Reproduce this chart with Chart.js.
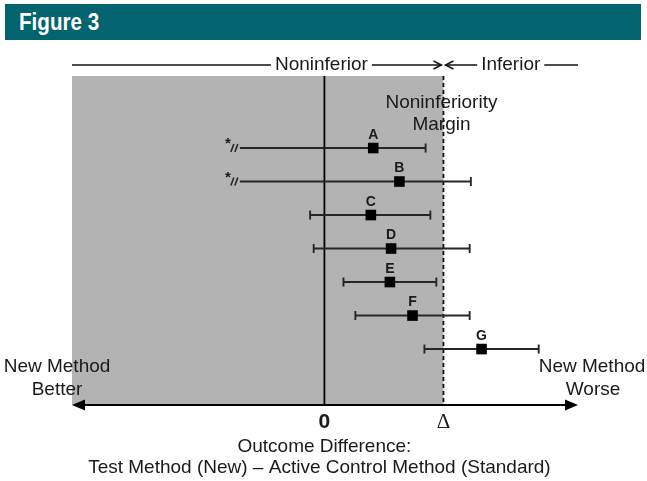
<!DOCTYPE html>
<html>
<head>
<meta charset="utf-8">
<script src="https://cdn.jsdelivr.net/npm/chart.js@4/dist/chart.umd.min.js"></script>
<style>
  html, body { margin: 0; padding: 0; background: #fff; }
  #wrap { position: relative; width: 647px; height: 481px; overflow: hidden; }
  #banner {
    position: absolute; left: 5px; top: 4px; width: 636px; height: 36px;
    background: #03636e; box-sizing: border-box; padding-left: 14px;
  }
  #banner span {
    display: inline-block; color: #fff;
    font: bold 24px "Liberation Sans Narrow", "Liberation Sans", Arial, sans-serif;
    line-height: 36px; transform: scaleX(0.86); transform-origin: left center;
  }
  canvas { position: absolute; left: 0; top: 0; }
</style>
</head>
<body>
<div id="wrap">
  <canvas id="chart" width="647" height="481"></canvas>
  <div id="banner"><span>Figure 3</span></div>
</div>
<script>
// Study labels, point estimates and confidence limits (units of the margin Δ)
const studies   = ['A', 'B', 'C', 'D', 'E', 'F', 'G'];
const estimates = [0.41, 0.63, 0.39, 0.56, 0.55, 0.74, 1.32];
const lowerCI   = [-0.71, -0.71, -0.12, -0.09, 0.16, 0.26, 0.84];
const upperCI   = [0.85, 1.23, 0.89, 1.22, 0.94, 1.22, 1.80];
// lower limits that run off the plot and are shown with a break mark
const truncated = [true, true, false, false, false, false, false];
// noninferiority margin and the x-axis tick labels
const margin     = 1;
const tickValues = [0, margin];
const tickLabels = ['0', 'Δ'];

const SANS = '"Liberation Sans", Arial, sans-serif';
const INK = '#1a1a1a';

function seg(ctx, x1, y1, x2, y2) {
  ctx.beginPath(); ctx.moveTo(x1, y1); ctx.lineTo(x2, y2); ctx.stroke();
}

const forestDecor = {
  id: 'forestDecor',
  beforeDatasetsDraw(chart) {
    const { ctx, chartArea: a, scales: { x, y } } = chart;
    const x0 = x.getPixelForValue(0);
    const xd = x.getPixelForValue(margin);
    ctx.save();
    // noninferior region
    ctx.fillStyle = '#b3b3b3';
    ctx.fillRect(a.left, a.top, xd - a.left, a.bottom - a.top);
    // zero line
    ctx.strokeStyle = '#000';
    ctx.lineWidth = 1.8;
    seg(ctx, x0, a.top, x0, a.bottom);
    // margin line
    ctx.strokeStyle = '#111';
    ctx.lineWidth = 1.8;
    ctx.setLineDash([4, 3]);
    seg(ctx, xd, a.top, xd, a.bottom);
    ctx.setLineDash([]);
    // confidence intervals
    ctx.strokeStyle = '#262626';
    ctx.lineWidth = 1.9;
    studies.forEach((s, i) => {
      const py = y.getPixelForValue(i + 1);
      const lo = x.getPixelForValue(lowerCI[i]);
      const hi = x.getPixelForValue(upperCI[i]);
      seg(ctx, lo, py, hi, py);
      seg(ctx, hi, py - 4.5, hi, py + 4.5);
      if (truncated[i]) {
        ctx.lineWidth = 1.6;
        seg(ctx, lo - 5, py + 4, lo - 2, py - 4);
        seg(ctx, lo - 9, py + 4, lo - 6, py - 4);
        ctx.lineWidth = 1.9;
        ctx.fillStyle = INK;
        ctx.font = 'bold 15px ' + SANS;
        ctx.textAlign = 'center';
        ctx.textBaseline = 'middle';
        ctx.fillText('*', lo - 12, py - 4);
      } else {
        seg(ctx, lo, py - 4.5, lo, py + 4.5);
      }
    });
    ctx.restore();
  },
  afterDatasetsDraw(chart) {
    const { ctx, chartArea: a, scales: { x, y } } = chart;
    const x0 = x.getPixelForValue(0);
    const xd = x.getPixelForValue(margin);
    ctx.save();
    ctx.fillStyle = INK;
    ctx.textAlign = 'center';
    ctx.textBaseline = 'middle';
    // study letters
    ctx.font = 'bold 14px ' + SANS;
    studies.forEach((s, i) => {
      ctx.fillText(s, x.getPixelForValue(estimates[i]), y.getPixelForValue(i + 1) - 13);
    });
    // margin caption
    ctx.font = '19px ' + SANS;
    ctx.fillText('Noninferiority', xd - 2, 103);
    ctx.fillText('Margin', xd - 2, 125);
    // direction captions
    ctx.fillText('New Method', 57, 367);
    ctx.fillText('Better', 57, 390);
    ctx.fillText('New Method', 592, 367);
    ctx.fillText('Worse', 593, 390);

    // top bracket: Noninferior / Inferior
    const ty = 65;
    ctx.strokeStyle = '#111';
    ctx.lineWidth = 1.4;
    const nText = 'Noninferior';
    const nx = x0 - 3;
    const nw = ctx.measureText(nText).width;
    ctx.fillText(nText, nx, ty);
    seg(ctx, a.left, ty, nx - nw / 2 - 4, ty);
    seg(ctx, nx + nw / 2 + 4, ty, xd - 2, ty);
    ctx.beginPath();
    ctx.moveTo(xd - 10, ty - 4); ctx.lineTo(xd - 2, ty); ctx.lineTo(xd - 10, ty + 4);
    ctx.stroke();
    const iText = 'Inferior';
    const ix = (xd + a.right) / 2;
    const iw = ctx.measureText(iText).width;
    ctx.fillText(iText, ix, ty);
    seg(ctx, xd + 2, ty, ix - iw / 2 - 4, ty);
    ctx.beginPath();
    ctx.moveTo(xd + 10, ty - 4); ctx.lineTo(xd + 2, ty); ctx.lineTo(xd + 10, ty + 4);
    ctx.stroke();
    seg(ctx, ix + iw / 2 + 4, ty, a.right, ty);

    // bottom double-headed axis arrow
    const ay = a.bottom;
    ctx.strokeStyle = '#000';
    ctx.fillStyle = '#000';
    ctx.lineWidth = 2;
    seg(ctx, a.left + 6, ay, a.right - 6, ay);
    ctx.beginPath();
    ctx.moveTo(a.left, ay); ctx.lineTo(a.left + 13, ay - 5.5); ctx.lineTo(a.left + 13, ay + 5.5);
    ctx.closePath(); ctx.fill();
    ctx.beginPath();
    ctx.moveTo(a.right, ay); ctx.lineTo(a.right - 13, ay - 5.5); ctx.lineTo(a.right - 13, ay + 5.5);
    ctx.closePath(); ctx.fill();

    // tick labels
    ctx.fillStyle = INK;
    tickValues.forEach((v, i) => {
      ctx.font = i === 0 ? 'bold 21px ' + SANS : '21px "Liberation Serif", "Times New Roman", serif';
      ctx.fillText(tickLabels[i], x.getPixelForValue(v), ay + 17);
    });
    // axis title
    ctx.font = '19px ' + SANS;
    ctx.fillText('Outcome Difference:', x0, 447);
    ctx.fillText('Test Method (New) \u2013 Active Control Method (Standard)', x0 - 5, 468);
    ctx.restore();
  }
};

new Chart(document.getElementById('chart'), {
  type: 'scatter',
  data: {
    datasets: [{
      data: studies.map((s, i) => ({ x: estimates[i], y: i + 1 })),
      pointStyle: 'rect',
      pointRadius: 7.5,
      pointHoverRadius: 7.5,
      backgroundColor: '#000',
      borderColor: '#000',
      borderWidth: 0
    }]
  },
  options: {
    responsive: false,
    animation: false,
    layout: { padding: { left: 72, right: 69, top: 76, bottom: 76 } },
    scales: {
      x: { type: 'linear', min: -2.12, max: 2.13, display: false },
      y: { type: 'linear', min: -1.15, max: 8.67, reverse: true, display: false }
    },
    plugins: { legend: { display: false }, tooltip: { enabled: false } }
  },
  plugins: [forestDecor]
});
</script>
</body>
</html>
